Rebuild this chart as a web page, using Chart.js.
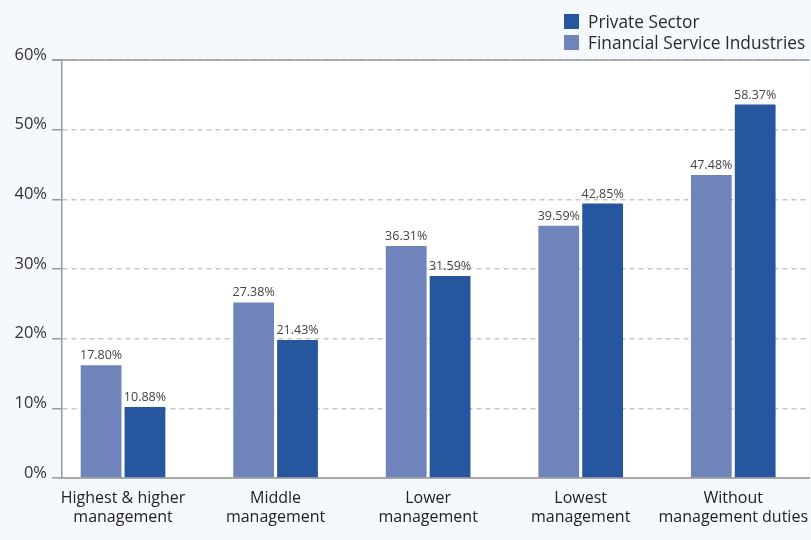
<!DOCTYPE html>
<html>
<head>
<meta charset="utf-8">
<script src="https://cdn.jsdelivr.net/npm/chart.js@4.4.1/dist/chart.umd.min.js"></script>
<style>
    body { margin: 0; background: #f5f8fc; font-family: "Open Sans", sans-serif; }
    #wrap { position: relative; width: 811px; height: 540px; }
    #legend { position: absolute; left: 564px; top: 11px; color: #2b2b2b; font-size: 17.3px; }
    #legend .item { display: flex; align-items: center; height: 21px; }
    #legend .box { width: 15px; height: 15px; margin-right: 9px; }
</style>
</head>
<body>
<div id="wrap">
    <canvas id="chart"></canvas>
    <div id="legend"></div>
</div>
<script>
const categories = [
    ['Highest & higher', 'management'],
    ['Middle', 'management'],
    ['Lower', 'management'],
    ['Lowest', 'management'],
    ['Without', 'management duties']
];
// bar heights as drawn in the picture
const fsiValues = [16.2, 25.2, 33.3, 36.2, 43.5];
const privateValues = [10.2, 19.8, 29.0, 39.4, 53.6];
// value labels printed above the bars
const fsiLabels = ['17.80%', '27.38%', '36.31%', '39.59%', '47.48%'];
const privateLabels = ['10.88%', '21.43%', '31.59%', '42.85%', '58.37%'];
const yTicks = [0, 10, 20, 30, 40, 50, 60];

const FSI_COLOR = '#6f84bb';
const PRIVATE_COLOR = '#25569e';

Chart.defaults.font.family = '"Open Sans", sans-serif';

// white plot area and solid top line
const plotBackground = {
    id: 'plotBackground',
    beforeDraw(chart) {
        const { ctx, chartArea: a } = chart;
        ctx.save();
        ctx.fillStyle = '#ffffff';
        ctx.fillRect(a.left, a.top, a.right - a.left, a.bottom - a.top);
        ctx.restore();
    },
    afterDatasetsDraw(chart) {
        const { ctx, chartArea: a } = chart;
        ctx.save();
        ctx.strokeStyle = '#9a9a9a';
        ctx.lineWidth = 1.5;
        ctx.beginPath();
        ctx.moveTo(a.left - 10, a.top);
        ctx.lineTo(a.right, a.top);
        ctx.stroke();
        ctx.restore();
    }
};

// percentages above the bars
const valueLabels = {
    id: 'valueLabels',
    afterDatasetsDraw(chart) {
        const ctx = chart.ctx;
        ctx.save();
        ctx.font = '12.5px "Open Sans", sans-serif';
        ctx.fillStyle = '#444444';
        ctx.textAlign = 'center';
        ctx.textBaseline = 'alphabetic';
        chart.data.datasets.forEach((ds, di) => {
            chart.getDatasetMeta(di).data.forEach((bar, i) => {
                ctx.fillText(ds.valueLabels[i], bar.x, bar.y - 6);
            });
        });
        ctx.restore();
    }
};

const chart = new Chart(document.getElementById('chart'), {
    type: 'bar',
    data: {
        datasets: [
            {
                label: 'Financial Service Industries',
                data: fsiValues.map((v, i) => ({ x: i, y: v })),
                valueLabels: fsiLabels,
                backgroundColor: FSI_COLOR
            },
            {
                label: 'Private Sector',
                data: privateValues.map((v, i) => ({ x: i, y: v })),
                valueLabels: privateLabels,
                backgroundColor: PRIVATE_COLOR
            }
        ]
    },
    options: {
        responsive: true,
        maintainAspectRatio: false,
        animation: false,
        categoryPercentage: 0.575,
        barPercentage: 0.93,
        layout: { padding: { top: 60, left: 0, right: 0, bottom: 0 } },
        plugins: {
            legend: { display: false },
            tooltip: { enabled: false }
        },
        scales: {
            x: {
                type: 'linear',
                min: -0.4,
                max: 4.5,
                offset: false,
                grid: { display: false, offset: false },
                border: { display: true, color: '#a8a8a8', width: 2 },
                afterBuildTicks: axis => {
                    axis.ticks = categories.map((c, i) => ({ value: i }));
                },
                afterFit: axis => { axis.height = 62; },
                ticks: {
                    autoSkip: false,
                    maxRotation: 0,
                    padding: 3,
                    color: '#222222',
                    font: { size: 16, lineHeight: 1.19 },
                    callback: value => categories[value]
                }
            },
            y: {
                min: 0,
                max: 60,
                afterBuildTicks: axis => {
                    axis.ticks = yTicks.map(v => ({ value: v }));
                },
                afterFit: axis => { axis.width = 62; },
                grid: {
                    color: '#c8c8c8',
                    tickColor: '#9a9a9a',
                    tickLength: 10,
                    lineWidth: 1.5
                },
                border: { display: true, color: '#9a9a9a', width: 1.5, dash: [5, 4] },
                ticks: {
                    padding: 5,
                    labelOffset: -5,
                    color: '#333333',
                    font: { size: 16.5 },
                    callback: value => value + '%'
                }
            }
        }
    },
    plugins: [plotBackground, valueLabels]
});

// legend, private sector listed first
const legend = document.getElementById('legend');
chart.data.datasets.slice().reverse().forEach(ds => {
    const item = document.createElement('div');
    item.className = 'item';
    item.innerHTML = `<span class="box" style="background:${ds.backgroundColor}"></span><span>${ds.label}</span>`;
    legend.appendChild(item);
});
</script>
</body>
</html>
